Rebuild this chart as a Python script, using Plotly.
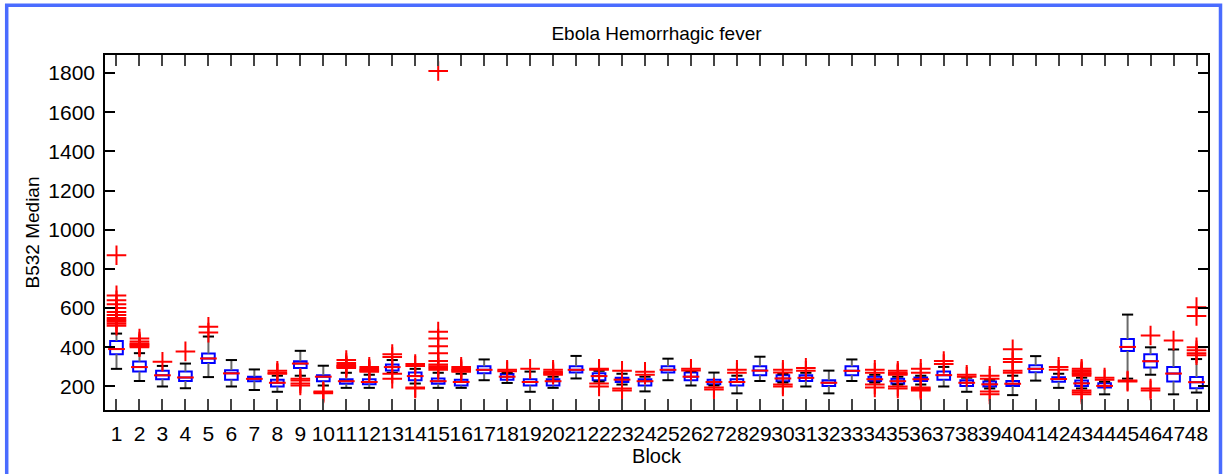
import plotly.graph_objects as go

blocks = list(range(1, 49))
q1 = [365, 276, 237, 228, 320, 235, 227, 200, 294, 227, 214, 212, 281, 232, 214, 205,
      267, 235, 205, 205, 271, 232, 223, 205, 271, 232, 211, 205, 258, 227, 228, 202,
      258, 228, 214, 228, 235, 202, 200, 202, 273, 224, 203, 195, 381, 297, 226, 191]
median = [391, 299, 257, 246, 343, 267, 239, 219, 317, 250, 227, 223, 299, 253, 227, 223,
          285, 250, 223, 227, 285, 253, 235, 227, 285, 250, 223, 223, 281, 241, 244, 219,
          280, 237, 227, 237, 258, 219, 211, 214, 290, 238, 216, 203, 402, 329, 266, 222]
q3 = [432, 327, 280, 276, 368, 283, 250, 235, 329, 258, 237, 237, 312, 271, 241, 235,
      303, 264, 237, 237, 303, 267, 244, 237, 303, 271, 235, 237, 303, 258, 258, 232,
      303, 250, 239, 246, 276, 232, 225, 228, 308, 247, 230, 216, 442, 364, 300, 248]
lower_whisker = [290, 228, 200, 191, 248, 200, 182, 173, 255, 205, 193, 193, 270, 215, 193, 193,
                 232, 218, 173, 193, 241, 225, 210, 175, 232, 205, 205, 165, 228, 220, 200, 165,
                 228, 220, 210, 210, 200, 173, 190, 156, 230, 193, 190, 160, 240, 260, 160, 169]
upper_whisker = [470, 370, 305, 317, 455, 335, 287, 255, 382, 306, 270, 260, 335, 290, 270, 265,
                 338, 270, 276, 250, 356, 280, 265, 250, 342, 278, 271, 255, 352, 265, 270, 281,
                 338, 260, 250, 255, 300, 245, 235, 255, 355, 265, 245, 225, 567, 400, 389, 340]
outliers = [
    [870, 665, 640, 620, 600, 580, 565, 550, 540, 530, 520, 510],
    [445, 430, 420, 415, 410, 405, 400],
    [326], [379], [505, 475], [], [], [280, 270, 265],
    [240, 230, 215, 205], [175, 170, 165],
    [335, 320, 310, 305, 300, 295], [300, 290, 285, 280, 275],
    [365, 350, 265, 240], [315, 305, 195, 190],
    [1810, 480, 445, 405, 370, 330, 312, 303, 295, 285],
    [300, 290, 285, 280, 275],
    [], [285, 278], [290], [285, 275, 270, 265, 260], [],
    [290, 285, 215, 200], [280, 190, 180], [275, 260],
    [], [290, 282], [195, 185], [285, 270], [], [285, 272, 210, 200], [295, 280], [],
    [], [285, 270, 210, 195], [280, 270, 265, 260, 200, 190],
    [290, 270, 195, 190, 185, 180], [330, 315], [260, 250], [255, 240, 175, 160],
    [390, 340, 325, 280, 270],
    [], [300, 285], [290, 282, 275, 268, 262, 255, 180, 170, 160], [245, 235],
    [230, 225], [460, 190, 180], [435], [605, 560, 400, 385, 370, 360],
]
x_tick_labels = [str(b) for b in blocks]
y_ticks = [200, 400, 600, 800, 1000, 1200, 1400, 1600, 1800]

FONT = "Liberation Sans, Arial, sans-serif"

fig = go.Figure()

# whisker stems
wx, wy = [], []
for b, lo, a, c, hi in zip(blocks, lower_whisker, q1, q3, upper_whisker):
    wx += [b, b, None, b, b, None]
    wy += [lo, a, None, c, hi, None]
fig.add_trace(go.Scatter(x=wx, y=wy, mode="lines", line=dict(color="#6a6a6a", width=2),
                         hoverinfo="skip", showlegend=False))
# whisker caps
fig.add_trace(go.Scatter(x=blocks + blocks, y=lower_whisker + upper_whisker, mode="markers",
                         marker=dict(symbol="line-ew", size=8, line=dict(color="black", width=2)),
                         hoverinfo="skip", showlegend=False))
# boxes
fig.add_trace(go.Box(x=blocks, q1=q1, median=median, q3=q3, lowerfence=q1, upperfence=q3,
                     width=0.55, whiskerwidth=0, line=dict(color="#0000ff", width=2),
                     fillcolor="rgba(0,0,0,0)", hoverinfo="skip", showlegend=False))
# medians
fig.add_trace(go.Scatter(x=blocks, y=median, mode="markers",
                         marker=dict(symbol="line-ew", size=12, line=dict(color="#ff0000", width=2)),
                         hoverinfo="skip", showlegend=False))
# outliers
ox, oy = [], []
for b, vals in zip(blocks, outliers):
    for v in vals:
        ox.append(b)
        oy.append(v)
fig.add_trace(go.Scatter(x=ox, y=oy, mode="markers",
                         marker=dict(symbol="cross-thin", size=14, line=dict(color="#ff0000", width=2)),
                         hoverinfo="skip", showlegend=False))

fig.update_layout(
    width=1227, height=474,
    margin=dict(l=105, r=19, t=55, b=64),
    paper_bgcolor="white", plot_bgcolor="white",
    font=dict(family=FONT, size=21, color="black"),
    title=dict(text="Ebola Hemorrhagic fever", x=0.5, xref="paper", xanchor="center",
               y=1 - 33 / 474, yanchor="middle", font=dict(size=19)),
    showlegend=False,
)
fig.update_xaxes(
    range=[0.5, 48.5], tickmode="array", tickvals=blocks, ticktext=x_tick_labels,
    tickangle=0, ticks="inside", ticklen=11, tickwidth=2, tickcolor="#444",
    showline=True, linecolor="black", linewidth=1.5, mirror="allticks",
    showgrid=False, zeroline=False, ticklabelstandoff=4,
    title=dict(text="Block", font=dict(size=20), standoff=3),
)
fig.update_yaxes(
    range=[80, 1892], tickmode="array", tickvals=y_ticks,
    ticks="inside", ticklen=10, tickwidth=2, tickcolor="black",
    showline=True, linecolor="black", linewidth=1.5, mirror="allticks",
    showgrid=False, zeroline=False, ticklabelstandoff=4,
    title=dict(text="B532 Median", font=dict(size=19), standoff=4),
)
# blue frame around the figure
fig.add_shape(type="rect", xref="paper", yref="paper",
              x0=(6.7 - 105) / 1103, x1=(1220.5 - 105) / 1103,
              y0=(410 - 490) / 355, y1=(410 - 5.3) / 355,
              line=dict(color="#4a6cff", width=3.5), fillcolor="rgba(0,0,0,0)", layer="above")

fig.write_html("out.html")
